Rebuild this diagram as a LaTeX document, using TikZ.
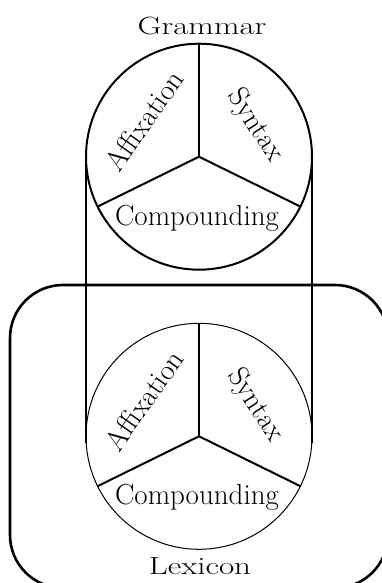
\documentclass[tikz,border=0pt]{standalone}
\usetikzlibrary{calc}
\tikzset{
  thickline/.style={line width=2pt},
  thinline/.style={line width=1pt},
  boxline/.style={line width=2.6pt},
  sectortext/.style={inner sep=0pt, font=\fontsize{29}{34}\selectfont},
  titlescale/.style={xscale=1.14, yscale=0.86},
}
\begin{document}
\begin{tikzpicture}[x=1pt,y=1pt]
\clip (0,0) rectangle (382,583);
\useasboundingbox (0,0) rectangle (382,583);
% lexicon box
\draw[boxline, rounded corners=53pt] (10,298) rectangle (388,-5);
% circles
\coordinate (c1) at (199,426.3);
\coordinate (c2) at (199,146.7);
\draw[thickline] (c1) circle (113);
\draw[thinline] (c2) circle (113);
% connecting verticals
\coordinate (l1) at (86,426.3);
\coordinate (l2) at (86,139.7);
\coordinate (r1) at (312,426.3);
\coordinate (r2) at (312,139.7);
\draw[thickline] (l1) -- (l2);
\draw[thickline] (r1) -- (r2);
% dividers
\foreach \c in {c1,c2}{
  \draw[thickline] (\c) -- ++(90:113);
  \draw[thickline] (\c) -- ++(206.2:113);
  \draw[thickline] (\c) -- ++(333.8:113);
}
% sector labels
\foreach \c/\n in {c1/a, c2/b}{
  \node[sectortext, rotate=55] (aff\n) at ($(\c)+(-55,36)$) {Affixation};
  \node[sectortext, rotate=-57] (syn\n) at ($(\c)+(56,31)$) {Syntax};
}
\node[sectortext, anchor=base] (coma) at (197,357) {Compounding};
\node[sectortext, anchor=base] (comb) at (197,78) {Compounding};
% titles
\begin{scope}[shift={(202,548)}, titlescale]
\node[sectortext, transform shape, anchor=base] (grammar) at (0,0) {Grammar};
\end{scope}
\begin{scope}[shift={(200,9)}, titlescale]
\node[sectortext, transform shape, anchor=base] (lexicon) at (0,0) {Lexicon};
\end{scope}
\end{tikzpicture}
\end{document}
